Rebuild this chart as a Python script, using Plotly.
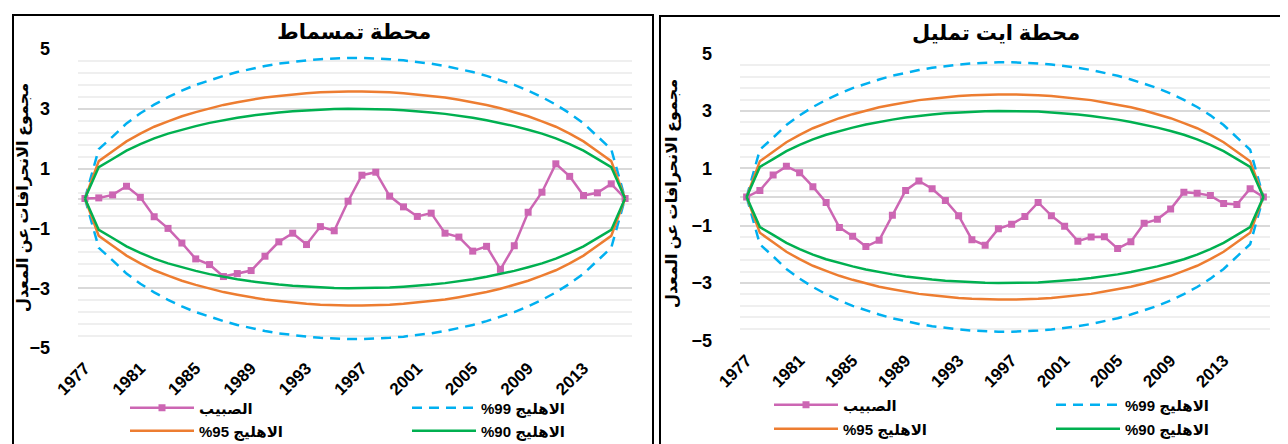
import plotly.graph_objects as go

# ---------------- data ----------------
years = [1977, 1978, 1979, 1980, 1981, 1982, 1983, 1984, 1985, 1986,
         1987, 1988, 1989, 1990, 1991, 1992, 1993, 1994, 1995, 1996,
         1997, 1998, 1999, 2000, 2001, 2002, 2003, 2004, 2005, 2006,
         2007, 2008, 2009, 2010, 2011, 2012, 2013, 2014, 2015, 2016]
tick_years = [1977, 1981, 1985, 1989, 1993, 1997, 2001, 2005, 2009, 2013]
y_ticks = [-5, -3, -1, 1, 3, 5]

# cumulative deviations (الصبيب)
tamasmat = [0, 0.02, 0.12, 0.41, 0.04, -0.61, -1.00, -1.49, -2.02, -2.21,
            -2.61, -2.51, -2.41, -1.93, -1.45, -1.16, -1.54, -0.94, -1.08, -0.09,
            0.78, 0.88, 0.08, -0.28, -0.60, -0.49, -1.16, -1.29, -1.76, -1.60,
            -2.37, -1.58, -0.46, 0.21, 1.16, 0.74, 0.10, 0.19, 0.49, 0]
ait_tamlil = [0, 0.23, 0.77, 1.07, 0.85, 0.36, -0.19, -1.06, -1.37, -1.73,
              -1.51, -0.64, 0.23, 0.56, 0.29, -0.12, -0.65, -1.49, -1.68, -1.11,
              -0.95, -0.68, -0.19, -0.65, -1.02, -1.54, -1.40, -1.39, -1.80, -1.56,
              -0.92, -0.78, -0.42, 0.17, 0.13, 0.05, -0.23, -0.26, 0.29, 0]

# ellipse bounds
up99 = [0, 1.65, 2.07, 2.51, 2.85, 3.14, 3.39, 3.61, 3.80, 3.96,
        4.10, 4.23, 4.34, 4.43, 4.51, 4.57, 4.62, 4.66, 4.69, 4.70,
        4.70, 4.69, 4.66, 4.62, 4.57, 4.51, 4.43, 4.34, 4.23, 4.10,
        3.96, 3.80, 3.61, 3.39, 3.14, 2.85, 2.51, 2.07, 1.65, 0]
lo99 = [0, -1.65, -2.07, -2.51, -2.85, -3.14, -3.39, -3.61, -3.80, -3.96,
        -4.10, -4.23, -4.34, -4.43, -4.51, -4.57, -4.62, -4.66, -4.69, -4.70,
        -4.70, -4.69, -4.66, -4.62, -4.57, -4.51, -4.43, -4.34, -4.23, -4.10,
        -3.96, -3.80, -3.61, -3.39, -3.14, -2.85, -2.51, -2.07, -1.65, 0]
up95 = [0, 1.25, 1.58, 1.91, 2.17, 2.40, 2.58, 2.75, 2.89, 3.02,
        3.13, 3.22, 3.30, 3.38, 3.43, 3.48, 3.52, 3.55, 3.57, 3.58,
        3.58, 3.57, 3.55, 3.52, 3.48, 3.43, 3.38, 3.30, 3.22, 3.13,
        3.02, 2.89, 2.75, 2.58, 2.40, 2.17, 1.91, 1.58, 1.25, 0]
lo95 = [0, -1.25, -1.58, -1.91, -2.17, -2.40, -2.58, -2.75, -2.89, -3.02,
        -3.13, -3.22, -3.30, -3.38, -3.43, -3.48, -3.52, -3.55, -3.57, -3.58,
        -3.58, -3.57, -3.55, -3.52, -3.48, -3.43, -3.38, -3.30, -3.22, -3.13,
        -3.02, -2.89, -2.75, -2.58, -2.40, -2.17, -1.91, -1.58, -1.25, 0]
up90 = [0, 1.05, 1.32, 1.60, 1.82, 2.01, 2.17, 2.30, 2.42, 2.53,
        2.62, 2.70, 2.77, 2.83, 2.88, 2.92, 2.95, 2.98, 2.99, 3.00,
        3.00, 2.99, 2.98, 2.95, 2.92, 2.88, 2.83, 2.77, 2.70, 2.62,
        2.53, 2.42, 2.30, 2.17, 2.01, 1.82, 1.60, 1.32, 1.05, 0]
lo90 = [0, -1.05, -1.32, -1.60, -1.82, -2.01, -2.17, -2.30, -2.42, -2.53,
        -2.62, -2.70, -2.77, -2.83, -2.88, -2.92, -2.95, -2.98, -2.99, -3.00,
        -3.00, -2.99, -2.98, -2.95, -2.92, -2.88, -2.83, -2.77, -2.70, -2.62,
        -2.53, -2.42, -2.30, -2.17, -2.01, -1.82, -1.60, -1.32, -1.05, 0]

titles = ["محطة تمسماط", "محطة ايت تمليل"]
y_title = "مجموع الانحرافات عن المعدل"
name_flow = "الصبيب"
name99 = "%99 الاهليج"
name95 = "%95 الاهليج"
name90 = "%90 الاهليج"

# ---------------- style ----------------
W, H = 1288, 444
FONT = "Arial, Liberation Sans, DejaVu Sans, sans-serif"
PINK, BLUE, ORANGE, GREEN = "#CC66B3", "#00B0F0", "#ED7D31", "#00B050"


def fx(px):
    return px / W


def fy(px):
    return 1 - px / H


fig = go.Figure()

panels = [
    dict(series=tamasmat, xa="x", ya="y", legs=("legend", "legend2"),
         xdom=(70, 624), ydom=(340, 41)),
    dict(series=ait_tamlil, xa="x2", ya="y2", legs=("legend3", "legend4"),
         xdom=(732, 1262), ydom=(332.3, 45.7)),
]

for p in panels:
    xa, ya = p["xa"], p["ya"]
    l1, l2 = p["legs"]
    fig.add_trace(go.Scatter(x=years, y=p["series"], name=name_flow, mode="lines+markers",
                             line=dict(color=PINK, width=2.5),
                             marker=dict(symbol="square", size=7, color=PINK),
                             xaxis=xa, yaxis=ya, legend=l1))
    fig.add_trace(go.Scatter(x=years, y=up99, name=name99, mode="lines",
                             line=dict(color=BLUE, width=2.5, dash="10px,7px"),
                             xaxis=xa, yaxis=ya, legend=l1))
    fig.add_trace(go.Scatter(x=years, y=lo99, name=name99, mode="lines", showlegend=False,
                             line=dict(color=BLUE, width=2.5, dash="10px,7px"),
                             xaxis=xa, yaxis=ya, legend=l1))
    fig.add_trace(go.Scatter(x=years, y=up95, name=name95, mode="lines",
                             line=dict(color=ORANGE, width=2.5),
                             xaxis=xa, yaxis=ya, legend=l2))
    fig.add_trace(go.Scatter(x=years, y=lo95, name=name95, mode="lines", showlegend=False,
                             line=dict(color=ORANGE, width=2.5),
                             xaxis=xa, yaxis=ya, legend=l2))
    fig.add_trace(go.Scatter(x=years, y=up90, name=name90, mode="lines",
                             line=dict(color=GREEN, width=2.5),
                             xaxis=xa, yaxis=ya, legend=l2))
    fig.add_trace(go.Scatter(x=years, y=lo90, name=name90, mode="lines", showlegend=False,
                             line=dict(color=GREEN, width=2.5),
                             xaxis=xa, yaxis=ya, legend=l2))

axis_font = dict(family=FONT, size=17, color="black", weight="bold")

for i, p in enumerate(panels):
    suffix = "" if i == 0 else "2"
    fig.update_layout(**{
        "xaxis" + suffix: dict(
            domain=[fx(p["xdom"][0]), fx(p["xdom"][1])],
            range=[1976.5, 2016.5], tickmode="array", tickvals=tick_years,
            ticktext=[str(t) for t in tick_years], tickangle=-45,
            tickfont=axis_font, showgrid=False, zeroline=False, showline=False,
            ticks="", ticklabelstandoff=6, anchor="y" + suffix, automargin=False,
            fixedrange=True),
        "yaxis" + suffix: dict(
            domain=[fy(p["ydom"][0]), fy(p["ydom"][1])],
            range=[-5, 5], tickmode="array", tickvals=y_ticks,
            tickfont=dict(family=FONT, size=18, color="black", weight="bold"),
            showgrid=True, gridcolor="#D9D9D9", gridwidth=2,
            minor=dict(dtick=0.4, tick0=-5, showgrid=True, gridcolor="#EFEFEF", gridwidth=2),
            zeroline=True, zerolinecolor="#D9D9D9", zerolinewidth=2,
            showline=False, ticks="", ticklabelstandoff=27,
            anchor="x" + suffix, automargin=False, fixedrange=True),
    })

leg_common = dict(orientation="h", entrywidth=203, entrywidthmode="pixels",
                  itemwidth=64, bgcolor="rgba(0,0,0,0)", xanchor="left", yanchor="middle",
                  font=dict(family=FONT, size=15, color="black", weight="bold"),
                  tracegroupgap=0)

fig.update_layout(
    width=W, height=H, margin=dict(l=0, r=0, t=0, b=0, autoexpand=False),
    paper_bgcolor="white", plot_bgcolor="white",
    legend=dict(x=fx(117), y=fy(400), **leg_common),
    legend2=dict(x=fx(117), y=fy(423), **leg_common),
    legend3=dict(x=fx(761), y=fy(397), **leg_common),
    legend4=dict(x=fx(761), y=fy(421), **leg_common),
)

annotations = [
    dict(text=titles[0], x=fx(346), y=fy(23), xref="paper", yref="paper",
         xanchor="center", yanchor="middle",
         showarrow=False, font=dict(family=FONT, size=21, color="black", weight="bold")),
    dict(text=titles[1], x=fx(988), y=fy(24), xref="paper", yref="paper",
         xanchor="center", yanchor="middle",
         showarrow=False, font=dict(family=FONT, size=21, color="black", weight="bold")),
    dict(text=y_title, x=fx(15), y=fy(190), xref="paper", yref="paper", textangle=-90,
         xanchor="center", yanchor="middle",
         showarrow=False, font=dict(family=FONT, size=16, color="black", weight="bold")),
    dict(text=y_title, x=fx(664), y=fy(186), xref="paper", yref="paper", textangle=-90,
         xanchor="center", yanchor="middle",
         showarrow=False, font=dict(family=FONT, size=16, color="black", weight="bold")),
]
fig.update_layout(annotations=annotations)

shapes = [
    dict(type="rect", xref="paper", yref="paper", x0=fx(5), x1=fx(645), y0=fy(442), y1=fy(7),
         line=dict(color="black", width=2)),
    dict(type="rect", xref="paper", yref="paper", x0=fx(652), x1=fx(1286), y0=fy(442), y1=fy(8),
         line=dict(color="black", width=2)),
]
fig.update_layout(shapes=shapes)

fig.write_html("out.html")
